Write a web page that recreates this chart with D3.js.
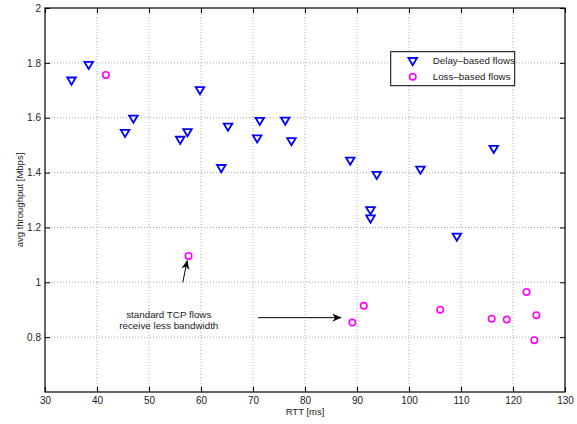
<!DOCTYPE html>
<html>
<head>
<meta charset="utf-8">
<script src="https://cdn.jsdelivr.net/npm/d3@7"></script>
<style>
  body { margin: 0; background: #fff; }
  text { font-family: "Liberation Sans", Arial, Helvetica, sans-serif; fill: #000; }
</style>
</head>
<body>
<svg id="chart"></svg>
<script>
var width = 577;
var height = 424;
var margin = {top: 8, right: 12, bottom: 32, left: 45};

// delay-based flows (triangles)
var delayRtt = [35.1, 38.4, 45.4, 47.0, 56.0, 57.4, 59.8, 63.9, 65.2, 70.8,
	71.3, 76.2, 77.4, 88.7, 92.6, 92.6, 93.8, 102.2, 109.2, 116.3];
var delayThr = [1.735, 1.792, 1.544, 1.596, 1.519, 1.547, 1.70, 1.416, 1.567, 1.524,
	1.588, 1.589, 1.514, 1.443, 1.262, 1.232, 1.391, 1.410, 1.166, 1.486];

// loss-based flows (circles)
var lossRtt = [41.7, 57.6, 89.1, 91.3, 106.0, 115.9, 118.8, 122.6, 124.1, 124.5];
var lossThr = [1.756, 1.096, 0.853, 0.914, 0.900, 0.867, 0.864, 0.965, 0.789, 0.880];

var xTicks = [30, 40, 50, 60, 70, 80, 90, 100, 110, 120, 130];
var yTicks = [0.8, 1, 1.2, 1.4, 1.6, 1.8, 2];

var legendLabels = ["Delay\u2013based flows", "Loss\u2013based flows"];
var noteLines = ["standard TCP flows", "receive less bandwidth"];

var innerW = width - margin.left - margin.right;
var innerH = height - margin.top - margin.bottom;

var x = d3.scaleLinear().domain([30, 130]).range([0, innerW]);
var y = d3.scaleLinear().domain([0.6, 2]).range([innerH, 0]);

var svg = d3.select("#chart")
.attr("width", width)
.attr("height", height);

var defs = svg.append("defs");
defs.append("marker")
.attr("id", "head")
.attr("viewBox", "0 0 10 10")
.attr("refX", 10)
.attr("refY", 5)
.attr("markerWidth", 9)
.attr("markerHeight", 9)
.attr("markerUnits", "userSpaceOnUse")
.attr("orient", "auto")
.append("path")
.attr("d", "M0,0.5 L10,5 L0,9.5 L3,5 Z")
.attr("fill", "#000");

var g = svg.append("g")
.attr("transform", "translate(" + margin.left + "," + margin.top + ")");

// grid
g.append("g")
.selectAll("line")
.data(xTicks.slice(1, -1))
.enter()
.append("line")
.attr("x1", function (d) { return x(d); })
.attr("x2", function (d) { return x(d); })
.attr("y1", 0)
.attr("y2", innerH)
.attr("stroke", "#aaa")
.attr("stroke-dasharray", "1,2");

g.append("g")
.selectAll("line")
.data(yTicks.slice(0, -1))
.enter()
.append("line")
.attr("x1", 0)
.attr("x2", innerW)
.attr("y1", function (d) { return y(d); })
.attr("y2", function (d) { return y(d); })
.attr("stroke", "#aaa")
.attr("stroke-dasharray", "1,2");

// axes with inward ticks on all sides
function styleAxis (sel) {
	sel.select(".domain").remove();
	sel.selectAll("line").attr("stroke", "#000");
	sel.selectAll("text")
	.style("font-size", "10px")
	.style("fill", "#222");
}

g.append("g")
.attr("transform", "translate(0," + innerH + ")")
.call(d3.axisBottom(x).tickValues(xTicks).tickSizeInner(-5).tickSizeOuter(0).tickPadding(5))
.call(styleAxis);

g.append("g")
.call(d3.axisTop(x).tickValues(xTicks).tickSizeInner(-5).tickSizeOuter(0).tickFormat(""))
.call(styleAxis);

g.append("g")
.call(d3.axisLeft(y).tickValues(yTicks).tickSizeInner(-5).tickSizeOuter(0).tickPadding(4)
	.tickFormat(function (d) { return String(d); }))
.call(styleAxis);

g.append("g")
.attr("transform", "translate(" + innerW + ",0)")
.call(d3.axisRight(y).tickValues(yTicks).tickSizeInner(-5).tickSizeOuter(0).tickFormat(""))
.call(styleAxis);

g.append("rect")
.attr("width", innerW)
.attr("height", innerH)
.attr("fill", "none")
.attr("stroke", "#000")
.attr("stroke-width", 1.2);

// axis labels
g.append("text")
.attr("x", innerW / 2)
.attr("y", innerH + 23)
.attr("text-anchor", "middle")
.style("font-size", "9.5px")
.style("fill", "#222")
.text("RTT [ms]");

g.append("text")
.attr("transform", "translate(-22," + (innerH / 2) + ") rotate(-90)")
.attr("text-anchor", "middle")
.style("font-size", "9.5px")
.style("fill", "#222")
.text("avg throughput [Mbps]");

// markers
var tri = "M-4.3,-3.2 L4.3,-3.2 L0,4 Z";

g.append("g")
.selectAll("path")
.data(d3.range(delayRtt.length))
.enter()
.append("path")
.attr("transform", function (i) { return "translate(" + x(delayRtt[i]) + "," + y(delayThr[i]) + ")"; })
.attr("d", tri)
.attr("fill", "none")
.attr("stroke", "#0000ff")
.attr("stroke-width", 1.8);

g.append("g")
.selectAll("circle")
.data(d3.range(lossRtt.length))
.enter()
.append("circle")
.attr("cx", function (i) { return x(lossRtt[i]); })
.attr("cy", function (i) { return y(lossThr[i]); })
.attr("r", 3.2)
.attr("fill", "none")
.attr("stroke", "#ff00ff")
.attr("stroke-width", 1.6);

// annotation
var note = g.append("text")
.attr("text-anchor", "middle")
.style("font-size", "9.8px")
.style("fill", "#222");

note.selectAll("tspan")
.data(noteLines)
.enter()
.append("tspan")
.attr("x", x(53.8))
.attr("y", function (d, i) { return y(0.86) + i * 11 - 3; })
.text(function (d) { return d; });

g.append("line")
.attr("x1", x(71.0))
.attr("y1", y(0.871))
.attr("x2", x(87.0))
.attr("y2", y(0.871))
.attr("stroke", "#000")
.attr("stroke-width", 1)
.attr("marker-end", "url(#head)");

g.append("line")
.attr("x1", x(56.5))
.attr("y1", y(1.0))
.attr("x2", x(57.35))
.attr("y2", y(1.08))
.attr("stroke", "#000")
.attr("stroke-width", 1)
.attr("marker-end", "url(#head)");

// legend
var legend = g.append("g")
.attr("transform", "translate(" + (390.7 - margin.left) + "," + (51.7 - margin.top) + ")");

legend.append("rect")
.attr("width", 124)
.attr("height", 34)
.attr("fill", "#fff")
.attr("stroke", "#000")
.attr("stroke-width", 1);

legend.append("path")
.attr("transform", "translate(22,9.5)")
.attr("d", tri)
.attr("fill", "none")
.attr("stroke", "#0000ff")
.attr("stroke-width", 1.8);

legend.append("circle")
.attr("cx", 22)
.attr("cy", 25)
.attr("r", 3.2)
.attr("fill", "none")
.attr("stroke", "#ff00ff")
.attr("stroke-width", 1.6);

legend.selectAll("text.lab")
.data(legendLabels)
.enter()
.append("text")
.attr("class", "lab")
.attr("x", 42)
.attr("y", function (d, i) { return 12.8 + i * 15.5; })
.style("font-size", "9.8px")
.style("fill", "#222")
.text(function (d) { return d; });
</script>
</body>
</html>
